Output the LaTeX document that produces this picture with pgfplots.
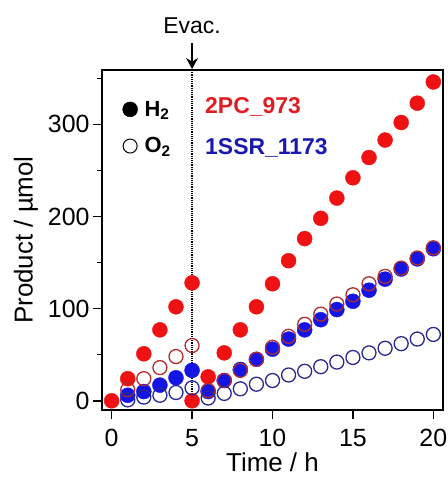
\documentclass[border=0pt]{standalone}
\usepackage{pgfplots}
\pgfplotsset{compat=1.18}
\usepackage{fontspec}
\setmainfont{Liberation Sans}
\usetikzlibrary{calc,arrows.meta}

\definecolor{hred}{RGB}{238,18,18}
\definecolor{ored}{RGB}{175,45,45}
\definecolor{hblue}{RGB}{20,20,228}
\definecolor{oblue}{RGB}{40,40,145}
\definecolor{tred}{RGB}{222,30,35}
\definecolor{tblue}{RGB}{25,25,175}

\newcommand{\lblfont}{\fontsize{25}{29}\selectfont}

\begin{document}
\begin{tikzpicture}
\begin{axis}[
    name=main,
    scale only axis,
    width=341bp, height=340bp,
    xmin=-0.6, xmax=20.6,
    ymin=-10, ymax=359,
    xtick={0,5,10,15,20},
    ytick={0,100,200,300},
    minor ytick={50,150,250,350},
    tick align=outside,
    xtick pos=bottom, ytick pos=left,
    major tick length=9bp, minor tick length=5bp,
    every tick/.style={black, line width=1.5bp},
    axis line style={black, line width=2bp},
    tick label style={font=\lblfont},
    xticklabel style={yshift=-7bp},
    label style={font=\fontsize{26}{30}\selectfont},
    xlabel style={yshift=1bp},
    ylabel style={yshift=3bp},
    /pgf/number format/assume math mode=true,
    xlabel={Time / h},
    ylabel={Product / µmol},
    clip=false,
    legend cell align=left,
    legend image code/.code={
        \path[draw=none] (0bp,-7bp) rectangle (21bp,7bp);
        \draw[#1] plot coordinates {(8.5bp,0bp)};
    },
    legend style={
        at={(0.057,0.915)}, anchor=north west,
        draw=none, fill=none, inner sep=0pt,
        font=\bfseries\fontsize{22}{26}\selectfont,
        row sep=16bp,
    },
]

% legend symbols (black)
\addlegendimage{only marks, mark=*, mark size=7.5bp, black}
\addlegendentry{H\textsubscript{2}}
\addlegendimage{only marks, mark=o, mark size=7bp, black, line width=1pt}
\addlegendentry{O\textsubscript{2}}

% 2PC_973 H2
\addplot[only marks, mark=*, mark size=7.5bp, color=hred, forget plot] coordinates {
(0,0) (1,24) (2,51) (3,77) (4,102) (5,128)
(5,0) (6,26) (7,52) (8,77) (9,102) (10,127) (11,152) (12,176)
(13,198) (14,220) (15,242) (16,264) (17,283) (18,302) (19,323) (20,346)};

% 1SSR_1173 H2
\addplot[only marks, mark=*, mark size=7.5bp, color=hblue, forget plot] coordinates {
(1,6) (2,10) (3,17) (4,25) (5,33)
(6,10) (7,22) (8,34) (9,45) (10,56) (11,67) (12,77)
(13,88) (14,99) (15,108) (16,120) (17,132) (18,143) (19,154) (20,165)};

% 2PC_973 O2
\addplot[only marks, mark=o, mark size=7bp, line width=1.3bp, color=ored, forget plot] coordinates {
(1,12) (2,24) (3,36) (4,48) (5,60)
(6,11) (7,22) (8,33) (9,45) (10,58) (11,70) (12,83)
(13,94) (14,105) (15,115) (16,127) (17,135) (18,144) (19,155) (20,166)};

% 1SSR_1173 O2
\addplot[only marks, mark=o, mark size=7bp, line width=1.3bp, color=oblue, forget plot] coordinates {
(1,1) (2,4) (3,6) (4,9) (5,14)
(6,3) (7,8) (8,13) (9,18) (10,22) (11,28) (12,32)
(13,37) (14,42) (15,47) (16,52) (17,57) (18,62) (19,67) (20,72)};

\coordinate (evtop) at (axis cs:5,359);
\draw[black, densely dotted, line width=1.2bp] (axis cs:5,359) -- (axis cs:5,0);

\node[anchor=west, text=tred, font=\bfseries\fontsize{23}{27}\selectfont] at (axis cs:5.6,319) {2PC\_973};
\node[anchor=west, text=tblue, font=\bfseries\fontsize{23}{27}\selectfont] at (axis cs:5.6,274) {1SSR\_1173};
\end{axis}
% frame and evacuation arrow
\draw[black, line width=2pt] (main.south west) -- (main.south east) -- (main.north east) -- (main.north west) -- cycle;
\draw[black, line width=2.6pt, -{Stealth[length=11pt,width=12pt]}]
    ([yshift=27pt]evtop) -- ([yshift=1pt]evtop);
\node[anchor=south, font=\fontsize{23}{27}\selectfont] at ([yshift=33bp]evtop) {Evac.};
\pgfresetboundingbox
\path ($(main.south west)+(-102bp,-67bp)$) rectangle ($(main.north east)+(5bp,70bp)$);
\end{tikzpicture}
\end{document}
